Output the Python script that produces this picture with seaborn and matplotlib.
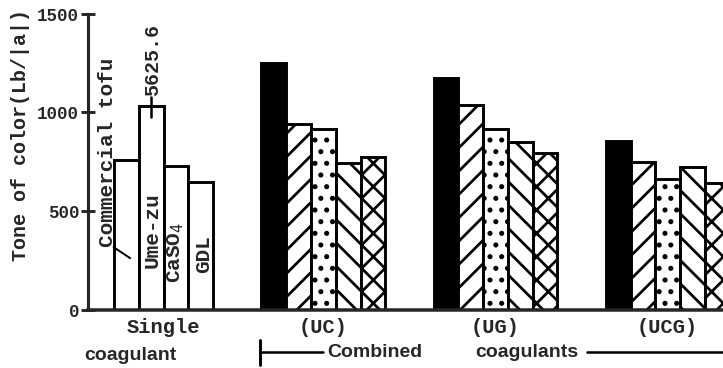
import numpy as np
import pandas as pd
import matplotlib.pyplot as plt
from matplotlib.lines import Line2D
import seaborn as sns

# values
groups = ["Single", "(UC)", "(UG)", "(UCG)"]
single_names = ["Commercial tofu", "Ume-zu", "CaSO$_4$", "GDL"]
single_values = [760, 5625.6, 730, 650]
uc_values = [1252, 943, 917, 745, 775]
ug_values = [1176, 1039, 917, 852, 796]
ucg_values = [857, 750, 664, 725, 644]

# layout, x in units of one bar width
group_centers = [0.0, 6.45, 13.4, 20.35]
break_at = 1030  # the Ume-zu bar is off the scale and cut off here
combined_styles = [("black", ""), ("white", "//"), ("white", ".."),
                   ("white", "\\\\"), ("white", "xx")]

W, H, DPI = 723, 368, 140
MONO = ["Liberation Mono", "DejaVu Sans Mono"]
SANS = ["Liberation Sans Narrow", "Liberation Sans", "DejaVu Sans"]

sns.set_style("ticks")
plt.rcParams["font.family"] = MONO
plt.rcParams["hatch.linewidth"] = 1.4
plt.rcParams["hatch.color"] = "black"

pos, vals, styles = [], [], []
for k, v in enumerate(single_values):
    pos.append(group_centers[0] + k - 1.5)
    vals.append(v)
    styles.append(("white", ""))
for c, series in zip(group_centers[1:], [uc_values, ug_values, ucg_values]):
    for k, v in enumerate(series):
        pos.append(c + k - 2)
        vals.append(v)
        styles.append(combined_styles[k])

df = pd.DataFrame({"pos": pos, "value": vals})
df["shown"] = np.where(df["value"] > 1500, break_at, df["value"])

fig = plt.figure(figsize=((W + 0.4) / DPI, (H + 0.4) / DPI), dpi=DPI)
ax = fig.add_axes([88 / W, 1 - 310 / H, 1 - 88 / W, (310 - 14) / H])

sns.barplot(data=df, x="pos", y="shown", native_scale=True, width=1.0,
            color="white", edgecolor="black", linewidth=1.5,
            errorbar=None, ax=ax)
for p, (fc, hatch) in zip(ax.patches, styles):
    p.set_facecolor(fc)
    p.set_hatch(hatch)
    p.set_edgecolor("black")

ax.set_xlim(-3.05, 22.6)
ax.set_ylim(0, 1500)
sns.despine(ax=ax)
ax.spines["left"].set_linewidth(1.6)
ax.spines["bottom"].set_linewidth(1.8)

ax.set_yticks([0, 500, 1000, 1500])
ax.tick_params(axis="y", direction="inout", length=7, width=1.5,
               labelsize=9, pad=1)
for t in ax.get_yticklabels():
    t.set_fontweight("bold")
ax.set_xticks(group_centers, groups)
ax.tick_params(axis="x", length=0, labelsize=10.5, pad=4)
for t in ax.get_xticklabels():
    t.set_fontweight("bold")
ax.set_xlabel("")
ax.set_ylabel("")

fig.text(20 / W, 1 - 135 / H, "Tone of color(Lb/|a|)", rotation=90,
         ha="center", va="center", fontsize=10.3, fontweight="bold")

# labels of the single coagulant bars
label_x = [-2.25, -0.45, 0.5, 1.6]
label_y = [320, 215, 140, 190]
for name, lx, ly in zip(single_names, label_x, label_y):
    ax.text(lx, ly, name, rotation=90, ha="center", va="bottom",
            fontsize=10.8, fontweight="bold", clip_on=False)
ax.plot([-2.02, -1.35], [318, 262], color="black", lw=1.0)
ax.plot([-0.5, -0.5], [975, 1080], color="black", lw=1.3)
ax.text(-0.45, 1085, f"{single_values[1]:.1f}", rotation=90,
        ha="center", va="bottom", fontsize=10.3, fontweight="bold")

# combined coagulants bracket under the axis
def fx(x):
    return x / W


def fy(y):
    return 1 - y / H


fig.text(fx(130), fy(355), "coagulant", ha="center", va="center",
         family=SANS, fontweight="bold", fontsize=10)
fig.text(fx(375), fy(352), "Combined", ha="center", va="center",
         family=SANS, fontweight="bold", fontsize=10)
fig.text(fx(527), fy(352), "coagulants", ha="center", va="center",
         family=SANS, fontweight="bold", fontsize=10)
fig.add_artist(Line2D([fx(260), fx(260)], [fy(340), fy(365)], color="black", lw=1.5))
fig.add_artist(Line2D([fx(260), fx(323)], [fy(352), fy(352)], color="black", lw=1.3))
fig.add_artist(Line2D([fx(587), fx(723)], [fy(352), fy(352)], color="black", lw=1.3))

fig.savefig("out.png", dpi=DPI)
